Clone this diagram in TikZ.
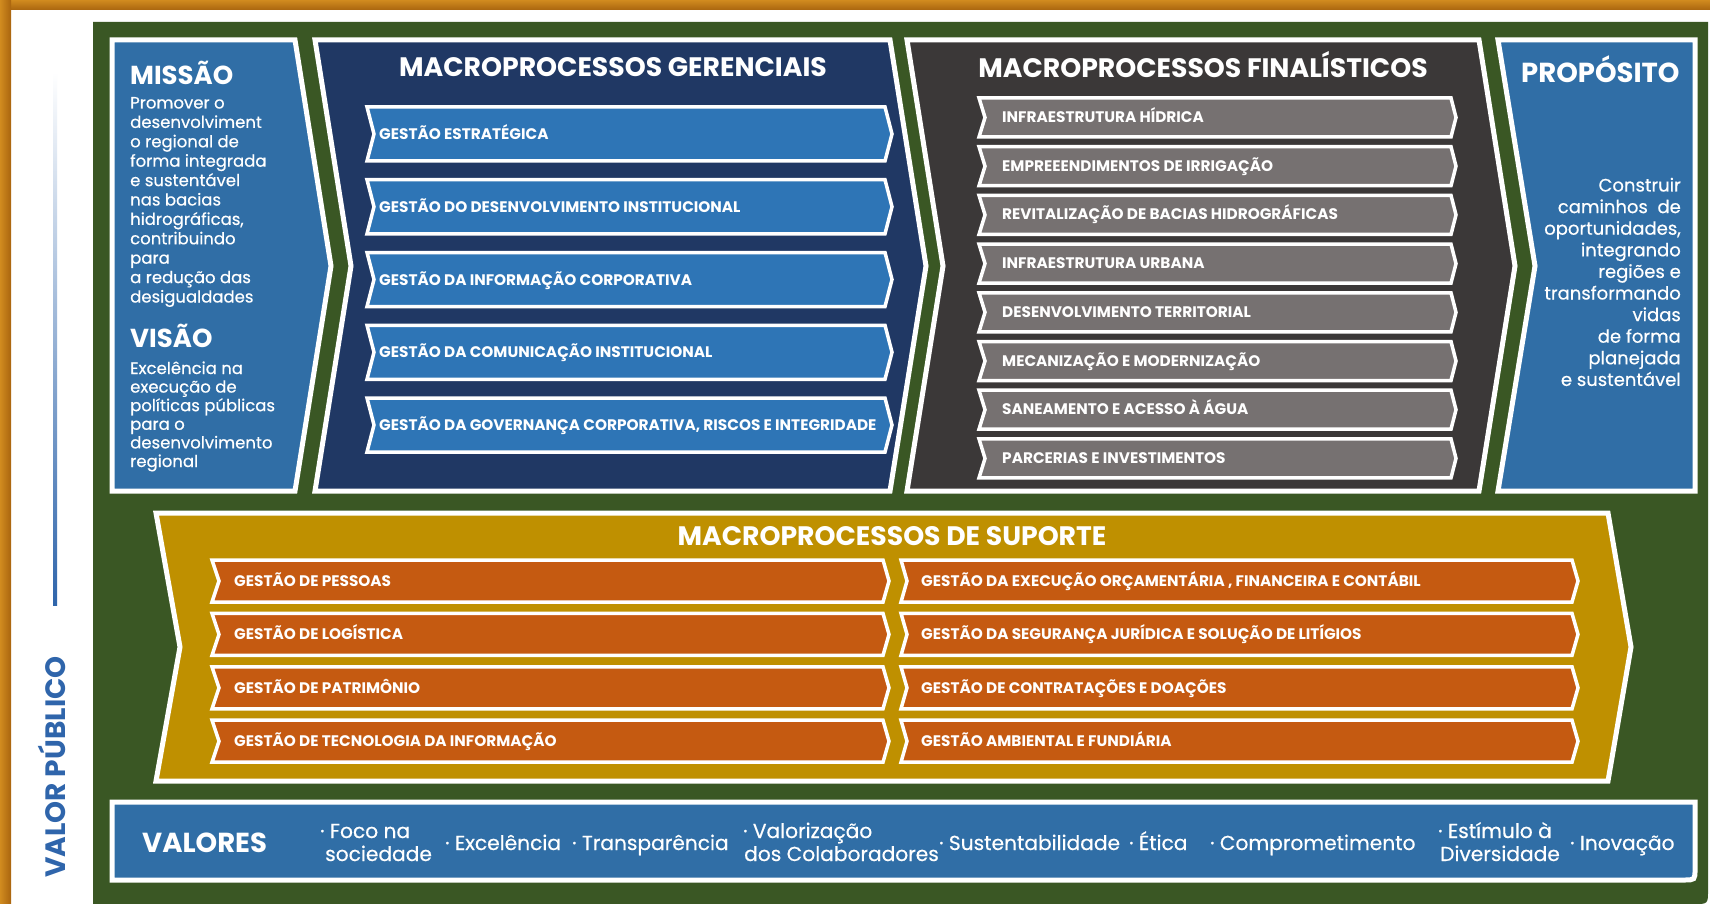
\documentclass[tikz,border=0pt]{standalone}
\usepackage{fontspec}
\setmainfont{Poppins}
\newfontfamily\medfont{Poppins}[FakeBold=0.5]
\definecolor{frameor}{HTML}{D18B1F}
\definecolor{framedark}{HTML}{A9650F}
\definecolor{bggreen}{HTML}{3A5724}
\definecolor{misblue}{HTML}{306EA6}
\definecolor{navy}{HTML}{203864}
\definecolor{itemblue}{HTML}{2E75B6}
\definecolor{darkgray}{HTML}{3B3838}
\definecolor{itemgray}{HTML}{767171}
\definecolor{gold}{HTML}{BF9000}
\definecolor{itemorange}{HTML}{C55A11}
\definecolor{vpblue}{HTML}{2F65AB}
\tikzset{
  bigshape/.style={draw=white, line width=5pt, line join=miter},
  itemshape/.style={draw=white, line width=3.5pt, line join=miter},
  itemtext/.style={text=white, font=\bfseries\fontsize{15.3}{15.3}\selectfont, anchor=base west, inner sep=0pt},
  headtext/.style={text=white, font=\bfseries\fontsize{26.7}{26.7}\selectfont, anchor=base, inner sep=0pt},
  sidehead/.style={text=white, font=\bfseries\fontsize{26}{26}\selectfont, anchor=base west, inner sep=0pt},
  bodytext/.style={text=white, font=\medfont\fontsize{16.5}{19.4}\selectfont, anchor=base west, inner sep=0pt},
  proptext/.style={text=white, font=\medfont\fontsize{18}{21}\selectfont, anchor=base east, inner sep=0pt},
  valtext/.style={text=white, font=\medfont\fontsize{20.2}{23}\selectfont, anchor=base west, inner sep=0pt},
}
\begin{document}
\begin{tikzpicture}[x=1pt,y=-1pt]
\useasboundingbox (0,0) rectangle (1710,904);
\fill[white] (0,0) rectangle (1710,904);
% orange frame
\shade[top color=frameor, bottom color=framedark] (0,0) rectangle (1710,10);
\shade[left color=frameor, right color=framedark] (0,0) rectangle (11,904);
% green field
\fill[bggreen] (93,22) -- (1708,22) -- (1708,890) .. controls (1708,904) .. (1694,904) -- (93,904) -- cycle;
% valor publico
\shade[top color=white, bottom color=vpblue] (53,72) rectangle (57,605);
\node[text=vpblue, font=\bfseries\fontsize{28}{28}\selectfont, rotate=90, anchor=base, inner sep=0pt] (vp) at (65,767) {VALOR PÚBLICO};

% big shapes
\path[bigshape, fill=misblue] (112,40) -- (295,40) -- (331,266) -- (295,491) -- (112,491) -- cycle;
\path[bigshape, fill=navy] (315,40) -- (890,40) -- (926,266) -- (890,491) -- (315,491) -- (351,266) -- cycle;
\path[bigshape, fill=darkgray] (907,40) -- (1479,40) -- (1515,266) -- (1479,491) -- (907,491) -- (943,266) -- cycle;
\path[bigshape, fill=misblue] (1498,40) -- (1695,40) -- (1695,491) -- (1498,491) -- (1535,266) -- cycle;
\path[bigshape, fill=gold] (156,513) -- (1608,513) -- (1631,647) -- (1608,781) -- (156,781) -- (180,647) -- cycle;
\path[bigshape, fill=misblue] (112,802) -- (1695,802) -- (1695,869) .. controls (1695,880) .. (1684,880) -- (112,880) -- cycle;

% missao / visao
\node[sidehead] (misT) at (130,85) {MISSÃO};
\foreach \t [count=\i] in {Promover o, desenvolviment, o regional de, forma integrada, e sustentável, nas bacias, {hidrográficas,}, contribuindo, para, a redução das, desigualdades}{
  \pgfmathsetmacro\yb{108.5+19.4*(\i-1)}
  \node[bodytext] (mis\i) at (130,\yb) {\t};
}
\node[sidehead] (visT) at (130,347) {VISÃO};
\foreach \t [count=\i] in {Excelência na, execução de, políticas públicas, para o, desenvolvimento, regional}{
  \pgfmathsetmacro\yb{374+18.6*(\i-1)}
  \node[bodytext] (vis\i) at (130,\yb) {\t};
}

% gerenciais
\node[headtext] (gerT) at (613,77) {MACROPROCESSOS GERENCIAIS};
\foreach \t [count=\i] in {GESTÃO ESTRATÉGICA, GESTÃO DO DESENVOLVIMENTO INSTITUCIONAL, GESTÃO DA INFORMAÇÃO CORPORATIVA, GESTÃO DA COMUNICAÇÃO INSTITUCIONAL, {GESTÃO DA GOVERNANÇA CORPORATIVA, RISCOS E INTEGRIDADE}}{
  \pgfmathsetmacro\yc{134+72.75*(\i-1)}
  \path[itemshape, fill=itemblue] (367,\yc-27) -- (885,\yc-27) -- (892,\yc) -- (885,\yc+27) -- (367,\yc+27) -- (374,\yc) -- cycle;
  \node[itemtext] (ger\i) at (379,\yc+5.5) {\t};
}

% finalisticos
\node[headtext] (finT) at (1203,78) {MACROPROCESSOS FINALÍSTICOS};
\foreach \t [count=\i] in {INFRAESTRUTURA HÍDRICA, EMPREEENDIMENTOS DE IRRIGAÇÃO, REVITALIZAÇÃO DE BACIAS HIDROGRÁFICAS, INFRAESTRUTURA URBANA, DESENVOLVIMENTO TERRITORIAL, MECANIZAÇÃO E MODERNIZAÇÃO, SANEAMENTO E ACESSO À ÁGUA, PARCERIAS E INVESTIMENTOS}{
  \pgfmathsetmacro\yc{117.5+48.7*(\i-1)}
  \path[itemshape, fill=itemgray] (979,\yc-19.5) -- (1451,\yc-19.5) -- (1456,\yc) -- (1451,\yc+19.5) -- (979,\yc+19.5) -- (985,\yc) -- cycle;
  \node[itemtext] (fin\i) at (1002,\yc+5) {\t};
}

% proposito
\node[sidehead, font=\bfseries\fontsize{27.5}{27.5}\selectfont] (proT) at (1521,83) {PROPÓSITO};
\foreach \t [count=\i] in {Construir, caminhos\ \ de, {oportunidades,}, integrando, regiões e, transformando, vidas, de forma, planejada, e sustentável}{
  \pgfmathsetmacro\yb{191.5+21.6*(\i-1)}
  \node[proptext] (pro\i) at (1681,\yb) {\t};
}

% suporte
\node[headtext] (supT) at (892,545) {MACROPROCESSOS DE SUPORTE};
\foreach \t [count=\i] in {GESTÃO DE PESSOAS, GESTÃO DE LOGÍSTICA, GESTÃO DE PATRIMÔNIO, GESTÃO DE TECNOLOGIA DA INFORMAÇÃO}{
  \pgfmathsetmacro\yc{581+53.4*(\i-1)}
  \path[itemshape, fill=itemorange] (212,\yc-21) -- (883,\yc-21) -- (889,\yc) -- (883,\yc+21) -- (212,\yc+21) -- (219,\yc) -- cycle;
  \node[itemtext] (supL\i) at (234,\yc+5.3) {\t};
}
\foreach \t [count=\i] in {{GESTÃO DA EXECUÇÃO ORÇAMENTÁRIA , FINANCEIRA E CONTÁBIL}, GESTÃO DA SEGURANÇA JURÍDICA E SOLUÇÃO DE LITÍGIOS, GESTÃO DE CONTRATAÇÕES E DOAÇÕES, GESTÃO AMBIENTAL E FUNDIÁRIA}{
  \pgfmathsetmacro\yc{581+53.4*(\i-1)}
  \path[itemshape, fill=itemorange] (901,\yc-21) -- (1572,\yc-21) -- (1578,\yc) -- (1572,\yc+21) -- (901,\yc+21) -- (907,\yc) -- cycle;
  \node[itemtext] (supR\i) at (921,\yc+5.3) {\t};
}

% valores
\node[text=white, font=\bfseries\fontsize{27.5}{27.5}\selectfont, anchor=base west, inner sep=0pt] (valT) at (142,852) {VALORES};
\node[valtext] (v1a) at (320,838) {· Foco na};
\node[valtext] (v1b) at (325,861) {sociedade};
\node[valtext] (v2) at (445,850) {· Excelência};
\node[valtext] (v3) at (572,850) {· Transparência};
\node[valtext] (v4a) at (743,838) {· Valorização};
\node[valtext] (v4b) at (744,861) {dos Colaboradores};
\node[valtext] (v5) at (939,850) {· Sustentabilidade};
\node[valtext] (v6) at (1129,850) {· Ética};
\node[valtext] (v7) at (1210,850) {· Comprometimento};
\node[valtext] (v8a) at (1438,838) {· Estímulo à};
\node[valtext] (v8b) at (1440,861) {Diversidade};
\node[valtext] (v9) at (1570,850) {· Inovação};
\end{tikzpicture}
\end{document}
